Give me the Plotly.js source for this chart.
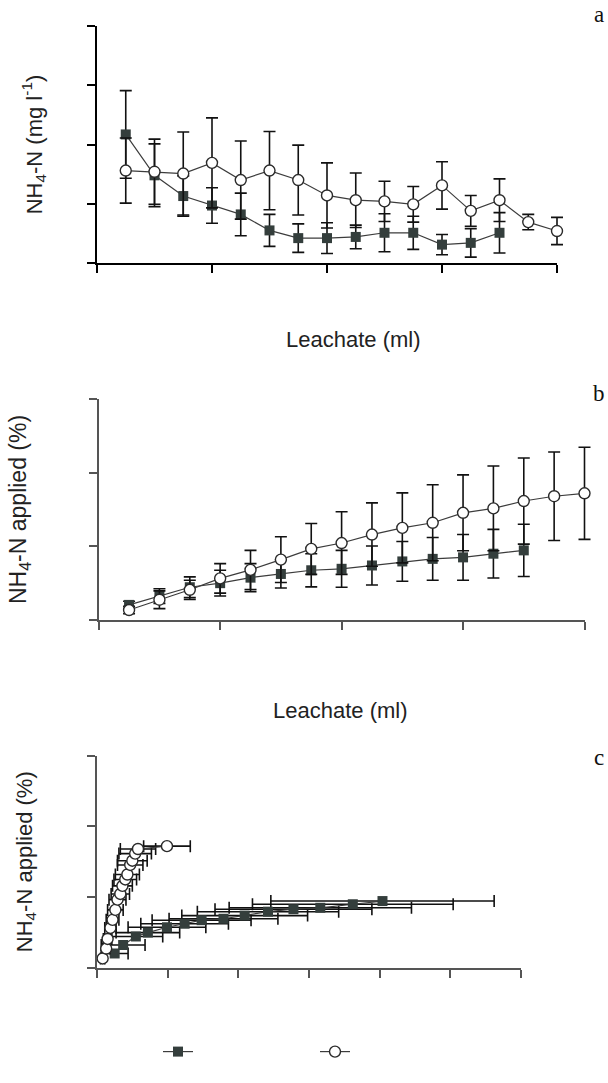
<!DOCTYPE html>
<html>
<head>
<meta charset="utf-8">
<script src="https://cdn.plot.ly/plotly-3.0.1.min.js"></script>
<style>html,body{margin:0;padding:0;background:#fff;}#chart{width:608px;height:1083px;}</style>
</head>
<body>
<div id="chart"></div>
<script>
// ---- Panel a: NH4-N concentration vs leachate volume ----
var volA_sq = [25,50,75,100,125,150,175,200,225,250,275,300,325,350];
var volA_ci = [25,50,75,100,125,150,175,200,225,250,275,300,325,350,375,400];
var concA_sq = [21.7,14.8,11.3,9.7,8.2,5.5,4.2,4.2,4.4,5.1,5.1,3.1,3.4,5.1];
var concA_sqErr = [7.4,5.3,3.4,3.0,3.6,2.7,2.4,2.6,2.0,3.2,2.8,1.7,2.4,3.4];
var concA_ci = [15.6,15.4,15.1,16.9,14.0,15.6,14.0,11.4,10.6,10.4,9.9,13.1,8.8,10.6,6.9,5.4];
var concA_ciErr = [5.5,5.5,7.0,7.6,6.6,6.6,5.9,5.5,4.6,3.4,3.0,4.0,2.6,3.6,1.3,2.3];

// ---- Panel b: cumulative NH4-N (% applied) vs leachate volume ----
var volB_sq = [25,50,75,100,125,150,175,200,225,250,275,300,325,350];
var volB_ci = [25,50,75,100,125,150,175,200,225,250,275,300,325,350,375,400];
var cumB_sq = [4.1,6.5,8.9,10.0,11.5,12.5,13.5,13.9,14.8,15.9,16.6,17.0,18.0,18.9];
var cumB_sqErr = [1.0,2.0,2.8,3.5,3.8,3.8,4.5,5.0,5.3,5.4,5.8,6.2,6.6,7.1];
var cumB_ci = [2.7,5.5,8.2,11.3,13.6,16.4,19.3,20.9,23.2,25.0,26.4,29.1,30.3,32.3,33.6,34.4];
var cumB_ciErr = [1.0,2.4,2.6,4.0,5.3,6.2,6.9,8.5,8.6,9.5,10.3,10.3,11.5,11.7,12.0,12.5];

// ---- Panel c: cumulative NH4-N (% applied) vs second variable ----
var xC_sq = [2.5,3.7,5.5,7.2,9.9,12.4,14.8,17.9,20.9,24.2,27.8,31.6,36.2,40.4];
var xC_sqErr = [1.9,3.1,3.8,4.5,5.5,6.2,7.0,7.7,8.9,10.0,11.1,12.9,14.2,15.8];
var xC_ci = [0.8,1.3,1.5,1.9,2.2,2.6,2.9,3.3,3.6,4.0,4.3,4.7,5.0,5.4,5.8,9.9];
var xC_ciErr = [0.3,0.5,0.6,0.8,0.9,1.1,1.2,1.3,1.4,1.6,1.7,1.8,2.1,2.3,2.5,3.3];
var cumC_sq = cumB_sq;
var cumC_ci = cumB_ci;

var panelLetters = ['a','b','c'];
var xTitle = 'Leachate (ml)';
var yTitleA = 'NH<sub>4</sub>-N (mg l<sup>-1</sup>)';
var yTitleB = 'NH<sub>4</sub>-N applied (%)';

var W = 608, H = 1083;
function px(x){return x/W;}
function py(y){return (H-y)/H;}

var sqColor = '#343e3c', lineColor = '#3c3c3c', errColor = '#111';
function sqTrace(x,y,xa,ya,err,horiz,legend){
  var t = {x:x,y:y,xaxis:xa,yaxis:ya,type:'scatter',mode:'lines+markers',
    line:{color:lineColor,width:1.2},
    marker:{symbol:'square',size:10,color:sqColor,line:{color:sqColor,width:0}},
    showlegend:!!legend,name:' ',cliponaxis:false};
  var e = {type:'data',array:err,visible:true,color:errColor,thickness:1.6,width:6};
  if(horiz) t.error_x=e; else t.error_y=e;
  return t;
}
function ciTrace(x,y,xa,ya,err,horiz,legend){
  var t = {x:x,y:y,xaxis:xa,yaxis:ya,type:'scatter',mode:'lines+markers',
    line:{color:lineColor,width:1.2},
    marker:{symbol:'circle',size:11,color:'#ffffff',line:{color:'#2a2a2a',width:1.4}},
    showlegend:!!legend,name:' ',cliponaxis:false};
  var e = {type:'data',array:err,visible:true,color:errColor,thickness:1.6,width:6};
  if(horiz) t.error_x=e; else t.error_y=e;
  return t;
}
// empty trace that only registers the visible axis frame of a panel
function frameTrace(xa,ya){
  return {x:[null],y:[null],xaxis:xa,yaxis:ya,type:'scatter',mode:'markers',
    showlegend:false,hoverinfo:'skip'};
}

var data = [
  frameTrace('x4','y'),
  frameTrace('x5','y2'),
  sqTrace(volA_sq,concA_sq,'x','y',concA_sqErr,false,true),
  ciTrace(volA_ci,concA_ci,'x','y',concA_ciErr,false,true),
  sqTrace(volB_sq,cumB_sq,'x2','y2',cumB_sqErr,false,false),
  ciTrace(volB_ci,cumB_ci,'x2','y2',cumB_ciErr,false,false),
  sqTrace(xC_sq,cumC_sq,'x3','y3',xC_sqErr,true,false),
  ciTrace(xC_ci,cumC_ci,'x3','y3',xC_ciErr,true,false)
];

var fontSans = 'Liberation Sans, Arial, sans-serif';
var fontSerif = 'Liberation Serif, Times New Roman, serif';
var txtCol = '#222';

function ax(dom,range,dtick,col){
  return {domain:dom,range:range,dtick:dtick,tick0:0,showline:true,linecolor:col,linewidth:1.5,
    ticks:'outside',ticklen:8,tickwidth:1.5,tickcolor:col,showticklabels:false,
    showgrid:false,zeroline:false,fixedrange:true,automargin:false};
}
function yTitle(text,size,standoff){
  return {text:text,standoff:standoff,font:{size:size,family:fontSans,color:txtCol}};
}
// data x-axes for a and b extend a few px past the visible axis end so the
// last error-bar caps are not clipped; visible axis lines are drawn by x4/x5.
function hiddenX(x0,x1,extra,rmax){
  return {domain:[px(x0),px(x1+extra)],range:[0,rmax*(x1+extra-x0)/(x1-x0)],
    visible:false,showgrid:false,zeroline:false,fixedrange:true};
}

var layout = {
  width:W,height:H,margin:{l:0,r:0,t:0,b:0},
  paper_bgcolor:'#fff',plot_bgcolor:'rgba(0,0,0,0)',
  font:{family:fontSans,color:txtCol},
  xaxis: Object.assign(hiddenX(97,557,12,400),{anchor:'y'}),
  yaxis: Object.assign(ax([py(263),py(26)],[0,40],10,'#000'),{anchor:'x',title:yTitle(yTitleA,22,39)}),
  xaxis4: Object.assign(ax([px(97),px(557)],[0,400],100,'#000'),{anchor:'y'}),
  xaxis2: Object.assign(hiddenX(98.7,584.5,12,400),{anchor:'y2'}),
  yaxis2: Object.assign(ax([py(620),py(399)],[0,60],20,'#555'),{anchor:'x2',title:yTitle(yTitleB,23,56)}),
  xaxis5: Object.assign(ax([px(98.7),px(584.5)],[0,400],100,'#555'),{anchor:'y2'}),
  xaxis3: Object.assign(ax([px(97),px(521)],[0,60],10,'#555'),{anchor:'y3'}),
  yaxis3: Object.assign(ax([py(968),py(755.5)],[0,60],20,'#555'),{anchor:'x3',title:yTitle(yTitleB,22,49)}),
  showlegend:true,
  legend:{orientation:'h',x:px(158),xanchor:'left',y:py(1052),yanchor:'middle',
    entrywidth:112,entrywidthmode:'pixels',font:{size:14},bgcolor:'rgba(0,0,0,0)',
    itemclick:false,itemdoubleclick:false},
  annotations:[
    {text:xTitle,xref:'paper',yref:'paper',x:px(353),y:py(339),showarrow:false,font:{size:22,family:fontSans,color:txtCol},xanchor:'center',yanchor:'middle'},
    {text:xTitle,xref:'paper',yref:'paper',x:px(340),y:py(710),showarrow:false,font:{size:22,family:fontSans,color:txtCol},xanchor:'center',yanchor:'middle'},
    {text:panelLetters[0],xref:'paper',yref:'paper',x:px(599),y:py(15),showarrow:false,font:{size:23,family:fontSerif,color:'#111'},xanchor:'center',yanchor:'middle'},
    {text:panelLetters[1],xref:'paper',yref:'paper',x:px(599),y:py(394),showarrow:false,font:{size:23,family:fontSerif,color:'#111'},xanchor:'center',yanchor:'middle'},
    {text:panelLetters[2],xref:'paper',yref:'paper',x:px(599),y:py(757),showarrow:false,font:{size:23,family:fontSerif,color:'#111'},xanchor:'center',yanchor:'middle'}
  ]
};

Plotly.newPlot('chart',data,layout,{displayModeBar:false});
</script>
</body>
</html>
